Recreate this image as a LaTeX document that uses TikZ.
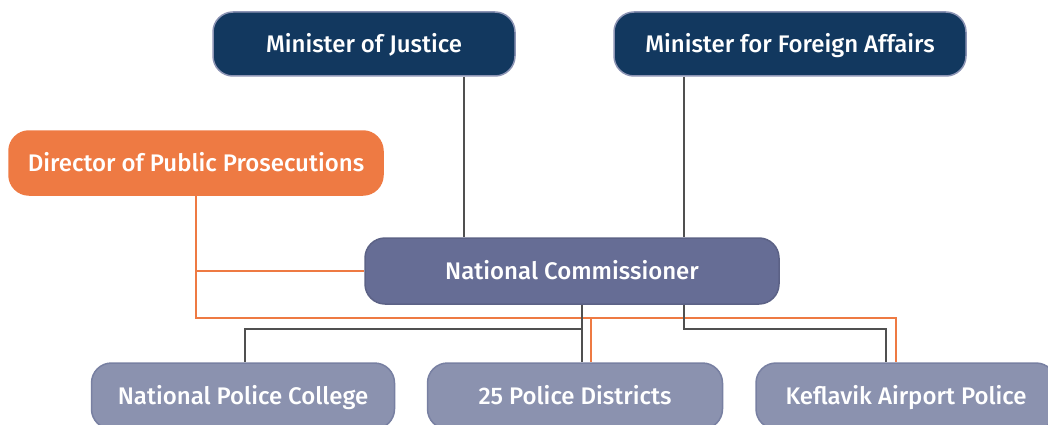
\documentclass[tikz,border=0pt]{standalone}
\usepackage{fontspec}
\setmainfont{Fira Sans}
\newfontfamily\medfont{Fira Sans Medium}
\usepackage{tikz}
\usetikzlibrary{positioning,calc}
\usepackage{xcolor}
\definecolor{navy}{HTML}{12385F}
\definecolor{navyline}{HTML}{8C94B4}
\definecolor{prosec}{HTML}{EE7A43}
\definecolor{commish}{HTML}{666D95}
\definecolor{unitfill}{HTML}{8B92AF}
\definecolor{unitline}{HTML}{7880A2}
\definecolor{linkgray}{HTML}{505050}

\begin{document}
\begin{tikzpicture}[x=1pt,y=-1pt,
    box/.style={rounded corners=20pt, text=white, inner sep=0pt, line width=1.5pt,
        minimum height=64pt, text height=18.5pt, text depth=2pt,
        font=\medfont\fontsize{24}{28}\selectfont},
    minister/.style={box, fill=navy, draw=navyline},
    dppbox/.style={box, fill=prosec, draw=prosec},
    ncbox/.style={box, fill=commish, draw=commish!90!black, minimum height=66pt},
    unit/.style={box, fill=unitfill, draw=unitline, minimum height=66pt},
    glink/.style={linkgray, line width=1.4pt},
    olink/.style={prosec, line width=1.4pt}]
                    \useasboundingbox (0,0) rectangle (1048,425);
                    % Ministries
                    \node[minister, minimum width=302pt] (moj) at (364,44) {Minister of Justice};
                    \node[minister, minimum width=352pt] (mfa) at (790,44) {Minister for Foreign Affairs};
                    \node[dppbox, minimum width=374pt] (dpp) at (196,163) {Director of Public Prosecutions};
                    
                    % Commissioner and units
                    \node[ncbox, minimum width=414pt] (nc) at (572,271) {National Commissioner};
                    \node[unit, minimum width=303pt] (npc) at (243,396) {National Police College};
                    \node[unit, minimum width=295pt] (pd) at (575,396) {25 Police Districts};
                    \node[unit, minimum width=300pt] (kap) at (906,396) {Keflavik Airport Police};
                    
                    \coordinate (gsplit) at (582,329);
                    \coordinate (osplit) at (196,318);
                    
                    % Orange links
                    \draw[olink] (dpp.south) |- (nc.west);
                    \draw[olink] (dpp.south) -- (osplit) -| ([xshift=-10pt]kap.north);
                    \draw[olink] ([xshift=16pt]pd.north |- osplit) -- ([xshift=16pt]pd.north);
                    
                    % Gray links
                    \draw[glink] ([xshift=100pt]moj.south) -- ([xshift=100pt]moj.south |- nc.north);
                    \draw[glink] ([xshift=-106pt]mfa.south) -- ([xshift=-106pt]mfa.south |- nc.north);
                    \draw[glink] ([xshift=10pt]nc.south) -- ([xshift=10pt]nc.south |- pd.north);
                    \draw[glink] (gsplit) -| ([xshift=2pt]npc.north);
                    \draw[glink] ([xshift=112pt]nc.south) |- ([xshift=-20pt]kap.north |- gsplit) -- ([xshift=-20pt]kap.north);
                \end{tikzpicture}
\end{document}
